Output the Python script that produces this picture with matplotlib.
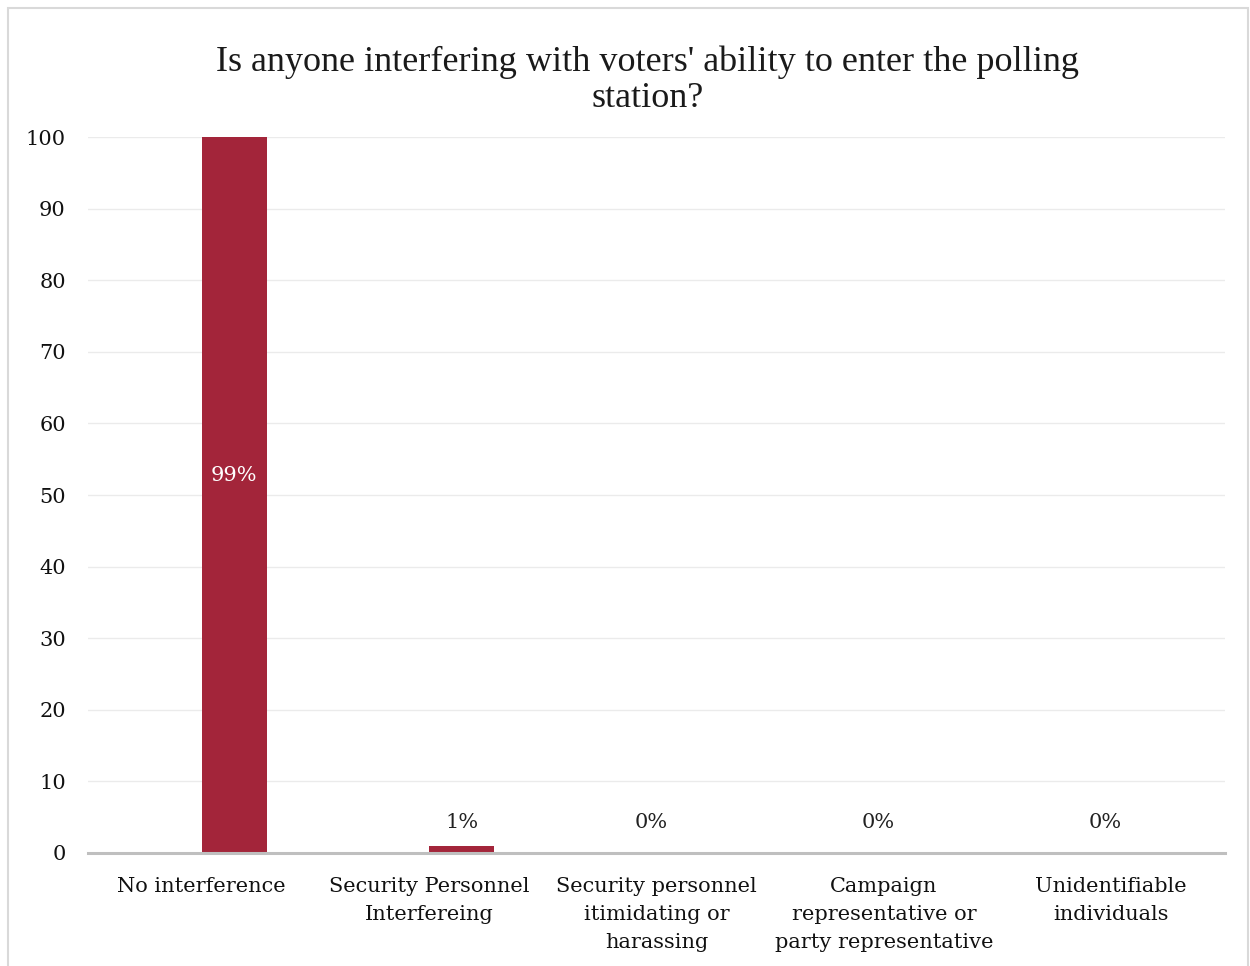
import matplotlib.pyplot as plt
from matplotlib.patches import Rectangle

categories = ['No interference', 'Security Personnel\nInterfereing',
              'Security personnel\nitimidating or\nharassing',
              'Campaign\nrepresentative or\nparty representative',
              'Unidentifiable\nindividuals']
values = [100, 1, 0, 0, 0]
labels = ['99%', '1%', '0%', '0%', '0%']
yticks = [0, 10, 20, 30, 40, 50, 60, 70, 80, 90, 100]

bar_color = '#A3253A'
serif = ['DejaVu Serif']

fig = plt.figure(figsize=(12.5, 9.66), dpi=100)
ax = fig.add_axes([0.0704, 0.117, 0.9096, 0.741])

x = list(range(len(categories)))
ax.bar([i + 0.143 for i in x], values, width=0.286, color=bar_color, zorder=3)

for i, (v, lab) in enumerate(zip(values, labels)):
    if v > 50:
        ax.text(i + 0.143, 52.8, lab, ha='center', va='center', color='white',
                fontsize=15, family=serif, zorder=4)
    elif v > 0:
        ax.text(i + 0.143, 4.3, lab, ha='center', va='center', color='#222222',
                fontsize=15, family=serif)
    else:
        ax.text(i - 0.025, 4.3, lab, ha='center', va='center', color='#222222',
                fontsize=15, family=serif)

ax.set_xlim(-0.5, len(categories) - 0.5)
ax.set_ylim(0, 100)
ax.set_yticks(yticks)
ax.set_yticklabels([str(t) for t in yticks], fontsize=15, family=serif, color='#111111')
ax.set_xticks(x)
ax.set_xticklabels(categories, fontsize=15, family=serif, color='#111111',
                   linespacing=1.62)
ax.tick_params(axis='both', length=0)
ax.tick_params(axis='y', pad=16)
ax.tick_params(axis='x', pad=17)

ax.grid(axis='y', color='#EBEBEB', linewidth=1, zorder=0)
for s in ['top', 'right', 'left']:
    ax.spines[s].set_visible(False)
ax.spines['bottom'].set_color('#BFBFBF')
ax.spines['bottom'].set_linewidth(2.2)
ax.spines['bottom'].set_zorder(5)

fig.text(0.518, 0.917, "Is anyone interfering with voters' ability to enter the polling\nstation?",
         ha='center', va='center', fontsize=26, family=['Liberation Serif'],
         color='#1a1a1a', linespacing=1.15)

fig.patches.append(Rectangle((0.006, -0.01), 0.992, 1.002, transform=fig.transFigure,
                             fill=False, edgecolor='#D9D9D9', linewidth=1.5))

fig.savefig('out.png', dpi=100)
